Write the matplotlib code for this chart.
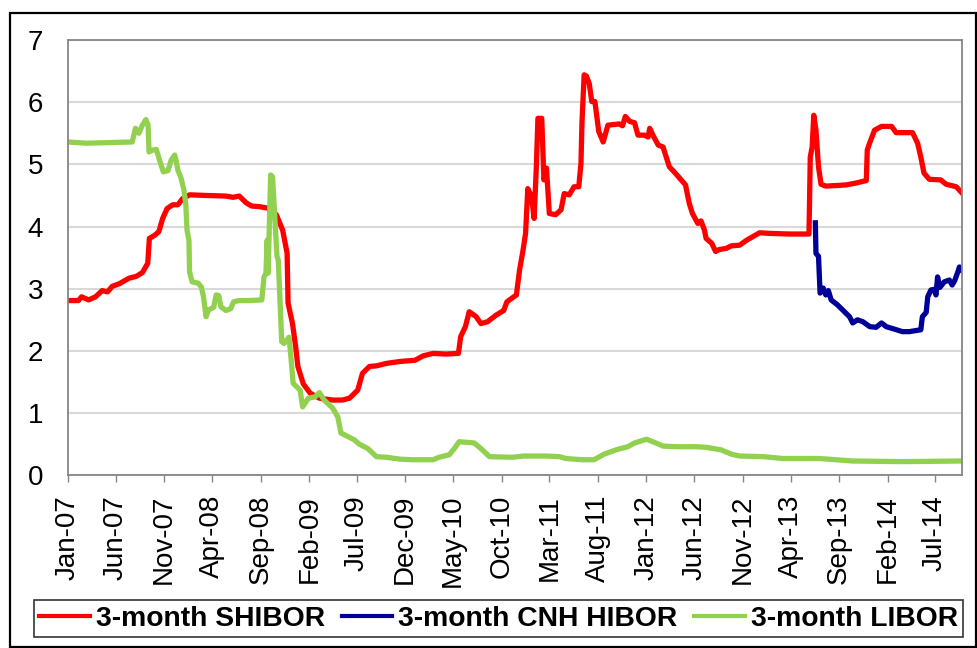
import matplotlib
matplotlib.use('Agg')
import matplotlib.pyplot as plt
import matplotlib.dates as mdates
from matplotlib.patches import Rectangle
import pandas as pd

plt.rcParams['font.family'] = ['Liberation Sans', 'DejaVu Sans']

# 3-month SHIBOR
shibor_dates = [
    '2007-01-01', '2007-02-03', '2007-02-13', '2007-03-07', '2007-03-29', '2007-04-19', '2007-05-06',
    '2007-05-21', '2007-06-12', '2007-07-13', '2007-08-05', '2007-08-24', '2007-09-10', '2007-09-15',
    '2007-10-02', '2007-10-15', '2007-10-27', '2007-11-10', '2007-11-28', '2007-12-14', '2007-12-29',
    '2008-01-20', '2008-03-12', '2008-05-14', '2008-06-05', '2008-06-25', '2008-07-17', '2008-08-03',
    '2008-08-28', '2008-09-29', '2008-10-20', '2008-11-09', '2008-11-23', '2008-11-26', '2008-12-10',
    '2008-12-20', '2008-12-27', '2009-01-13', '2009-02-04', '2009-03-05', '2009-04-16', '2009-05-17',
    '2009-06-08', '2009-07-04', '2009-07-19', '2009-08-10', '2009-09-01', '2009-10-03', '2009-11-14',
    '2010-01-01', '2010-01-26', '2010-02-27', '2010-04-09', '2010-05-18', '2010-05-25', '2010-06-09',
    '2010-06-21', '2010-07-13', '2010-07-28', '2010-08-18', '2010-09-15', '2010-10-08', '2010-10-18',
    '2010-11-17', '2010-11-27', '2010-12-08', '2010-12-16', '2010-12-23', '2011-01-04', '2011-01-12',
    '2011-01-19', '2011-01-24', '2011-02-05', '2011-02-12', '2011-02-20', '2011-03-01', '2011-03-21',
    '2011-04-07', '2011-04-17', '2011-05-03', '2011-05-18', '2011-06-02', '2011-06-09', '2011-06-12',
    '2011-06-19', '2011-06-26', '2011-07-05', '2011-07-13', '2011-07-23', '2011-08-04', '2011-08-18',
    '2011-09-02', '2011-10-08', '2011-10-18', '2011-10-27', '2011-11-10', '2011-11-25', '2011-12-06',
    '2011-12-26', '2012-01-07', '2012-01-12', '2012-01-22', '2012-02-08', '2012-02-23', '2012-03-04',
    '2012-03-14', '2012-03-29', '2012-04-15', '2012-05-04', '2012-05-16', '2012-05-26', '2012-06-12',
    '2012-06-22', '2012-07-03', '2012-07-08', '2012-07-26', '2012-08-07', '2012-08-19', '2012-09-10',
    '2012-09-26', '2012-10-22', '2012-11-13', '2012-12-24', '2013-01-25', '2013-03-27', '2013-05-29',
    '2013-06-02', '2013-06-08', '2013-06-13', '2013-06-20', '2013-06-28', '2013-07-06', '2013-07-21',
    '2013-09-24', '2013-10-25', '2013-11-26', '2013-11-29', '2013-12-07', '2013-12-22', '2014-01-13',
    '2014-02-14', '2014-02-28', '2014-04-21', '2014-05-07', '2014-05-17', '2014-05-27', '2014-06-13',
    '2014-07-19', '2014-08-05', '2014-09-06', '2014-09-24']
shibor = [
    2.81, 2.81, 2.87, 2.82, 2.87, 2.97, 2.95,
    3.04, 3.08, 3.17, 3.20, 3.26, 3.41, 3.81,
    3.86, 3.92, 4.13, 4.29, 4.35, 4.35, 4.45,
    4.51, 4.50, 4.49, 4.47, 4.49, 4.38, 4.33,
    4.32, 4.29, 4.19, 3.94, 3.57, 2.77, 2.44,
    2.07, 1.75, 1.47, 1.32, 1.24, 1.21, 1.21,
    1.24, 1.37, 1.64, 1.75, 1.76, 1.80, 1.83,
    1.85, 1.92, 1.96, 1.95, 1.96, 2.23, 2.39,
    2.63, 2.55, 2.44, 2.47, 2.58, 2.65, 2.79,
    2.90, 3.30, 3.62, 3.89, 4.61, 4.48, 4.13,
    4.96, 5.74, 5.74, 4.75, 4.94, 4.21, 4.19,
    4.27, 4.53, 4.51, 4.64, 4.64, 5.02, 5.66,
    6.44, 6.42, 6.30, 6.01, 6.01, 5.53, 5.36,
    5.63, 5.65, 5.62, 5.77, 5.69, 5.67, 5.47,
    5.47, 5.44, 5.58, 5.47, 5.31, 5.28, 5.12,
    4.96, 4.88, 4.78, 4.67, 4.37, 4.21, 4.05,
    4.09, 3.94, 3.81, 3.73, 3.60, 3.63, 3.65,
    3.69, 3.70, 3.78, 3.90, 3.89, 3.88, 3.88,
    5.12, 5.28, 5.79, 5.55, 4.96, 4.68, 4.65,
    4.67, 4.70, 4.74, 5.23, 5.35, 5.55, 5.61,
    5.61, 5.51, 5.51, 5.34, 5.12, 4.86, 4.76,
    4.75, 4.68, 4.64, 4.54]

# 3-month CNH HIBOR
hibor_dates = [
    '2013-06-18', '2013-06-20', '2013-06-28', '2013-07-03', '2013-07-13', '2013-07-21', '2013-07-29',
    '2013-08-07', '2013-08-27', '2013-09-18', '2013-10-04', '2013-10-14', '2013-10-29', '2013-11-15',
    '2013-12-07', '2013-12-27', '2014-01-13', '2014-01-28', '2014-02-23', '2014-03-20', '2014-04-11',
    '2014-05-17', '2014-05-22', '2014-06-03', '2014-06-08', '2014-06-18', '2014-06-28', '2014-07-04',
    '2014-07-09', '2014-07-16', '2014-07-30', '2014-08-15', '2014-08-24', '2014-09-01', '2014-09-11',
    '2014-09-16', '2014-09-24']
hibor = [
    4.06, 3.57, 3.52, 2.93, 3.01, 2.90, 2.97,
    2.82, 2.74, 2.63, 2.55, 2.45, 2.50, 2.47,
    2.39, 2.38, 2.45, 2.39, 2.35, 2.31, 2.31,
    2.34, 2.55, 2.62, 2.87, 2.98, 2.99, 2.90,
    3.19, 3.02, 3.11, 3.14, 3.06, 3.13, 3.27,
    3.35, 3.30]

# 3-month LIBOR
libor_dates = [
    '2007-01-01', '2007-02-28', '2007-07-23', '2007-08-02', '2007-08-13', '2007-08-23', '2007-09-04',
    '2007-09-11', '2007-09-14', '2007-09-26', '2007-10-07', '2007-10-17', '2007-10-29', '2007-11-13',
    '2007-11-23', '2007-12-04', '2007-12-09', '2007-12-14', '2007-12-24', '2008-01-02', '2008-01-08',
    '2008-01-12', '2008-01-18', '2008-01-20', '2008-01-28', '2008-02-16', '2008-02-26', '2008-03-04',
    '2008-03-12', '2008-03-20', '2008-04-05', '2008-04-13', '2008-04-21', '2008-04-28', '2008-05-14',
    '2008-05-29', '2008-06-07', '2008-06-25', '2008-07-27', '2008-09-04', '2008-09-11', '2008-09-17',
    '2008-09-21', '2008-09-24', '2008-10-02', '2008-10-08', '2008-10-15', '2008-10-22', '2008-10-26',
    '2008-10-31', '2008-11-06', '2008-11-13', '2008-11-29', '2008-12-04', '2008-12-12', '2008-12-24',
    '2009-01-03', '2009-01-11', '2009-01-29', '2009-02-19', '2009-03-05', '2009-03-20', '2009-04-16',
    '2009-05-02', '2009-05-12', '2009-06-08', '2009-06-23', '2009-07-09', '2009-08-05', '2009-09-01',
    '2009-10-03', '2009-11-14', '2009-12-25', '2010-02-27', '2010-03-18', '2010-04-19', '2010-05-05',
    '2010-05-20', '2010-07-07', '2010-07-28', '2010-08-24', '2010-11-06', '2010-12-08', '2011-02-20',
    '2011-04-02', '2011-04-22', '2011-06-14', '2011-07-20', '2011-08-21', '2011-09-28', '2011-11-04',
    '2011-11-25', '2012-01-02', '2012-01-22', '2012-02-23', '2012-04-05', '2012-06-07', '2012-07-08',
    '2012-08-24', '2012-09-26', '2012-10-22', '2013-01-05', '2013-03-07', '2013-07-01', '2013-10-14',
    '2014-03-20', '2014-09-24']
libor = [
    5.36, 5.34, 5.36, 5.58, 5.50, 5.62, 5.72,
    5.63, 5.20, 5.23, 5.24, 5.07, 4.88, 4.90,
    5.07, 5.15, 5.05, 4.91, 4.78, 4.59, 4.37,
    3.94, 3.78, 3.27, 3.11, 3.09, 3.03, 2.87,
    2.55, 2.66, 2.70, 2.90, 2.89, 2.71, 2.65,
    2.68, 2.79, 2.81, 2.81, 2.82, 3.19, 3.24,
    3.78, 3.25, 4.83, 4.80, 4.16, 3.52, 3.46,
    2.87, 2.15, 2.12, 2.22, 1.96, 1.48, 1.42,
    1.37, 1.10, 1.24, 1.26, 1.33, 1.21, 1.08,
    0.94, 0.68, 0.61, 0.57, 0.50, 0.43, 0.30,
    0.29, 0.26, 0.25, 0.25, 0.29, 0.33, 0.43,
    0.54, 0.52, 0.43, 0.30, 0.29, 0.31, 0.31,
    0.30, 0.27, 0.25, 0.25, 0.34, 0.41, 0.46,
    0.52, 0.58, 0.54, 0.47, 0.46, 0.46, 0.45,
    0.41, 0.34, 0.31, 0.30, 0.27, 0.27, 0.23,
    0.22, 0.23]

x_start = '2007-01-01'
x_end = '2014-09-24'

fig = plt.figure(figsize=(9.78, 6.48), dpi=100)
ax = fig.add_axes([0.0695, 0.2665, 0.9141, 0.6718])

ax.plot(pd.to_datetime(shibor_dates), shibor, color='#ff0000', lw=3.8,
        label='3-month SHIBOR', solid_joinstyle='round')
ax.plot(pd.to_datetime(hibor_dates), hibor, color='#000099', lw=3.8,
        label='3-month CNH HIBOR', solid_joinstyle='round')
ax.plot(pd.to_datetime(libor_dates), libor, color='#92d050', lw=3.8,
        label='3-month LIBOR', solid_joinstyle='round')

ax.set_xlim(pd.Timestamp(x_start), pd.Timestamp(x_end))
ax.set_ylim(0, 7)
ax.set_yticks(range(0, 8))
ax.set_xticks(pd.date_range(x_start, x_end, freq='5MS'))
ax.xaxis.set_major_formatter(mdates.DateFormatter('%b-%y'))

ax.grid(axis='y', color='#d9d9d9', lw=1.5)
ax.set_axisbelow(True)
for s in ax.spines.values():
    s.set_color('#868686')
    s.set_linewidth(1.3)

ax.tick_params(axis='x', direction='out', length=5, width=1, color='#868686',
               labelsize=20, pad=9, labelrotation=90)
ax.tick_params(axis='y', length=0, labelsize=20, pad=18)

leg = fig.legend(loc='center', bbox_to_anchor=(0.5097, 0.0455), ncol=3,
                 prop={'weight': 'bold', 'size': 20.3}, frameon=True, fancybox=False,
                 handlelength=1.8, handletextpad=0.2, columnspacing=0.6,
                 borderpad=0.2, borderaxespad=0)
leg.get_frame().set_edgecolor('black')
leg.get_frame().set_linewidth(1.2)
for line in leg.get_lines():
    line.set_linewidth(3)

# chart area border
fig.patches.append(Rectangle((0.0102, 0.0015), 0.9877, 0.978, transform=fig.transFigure,
                             fill=False, edgecolor='black', lw=1.6))

fig.savefig('out.png', dpi=100)
